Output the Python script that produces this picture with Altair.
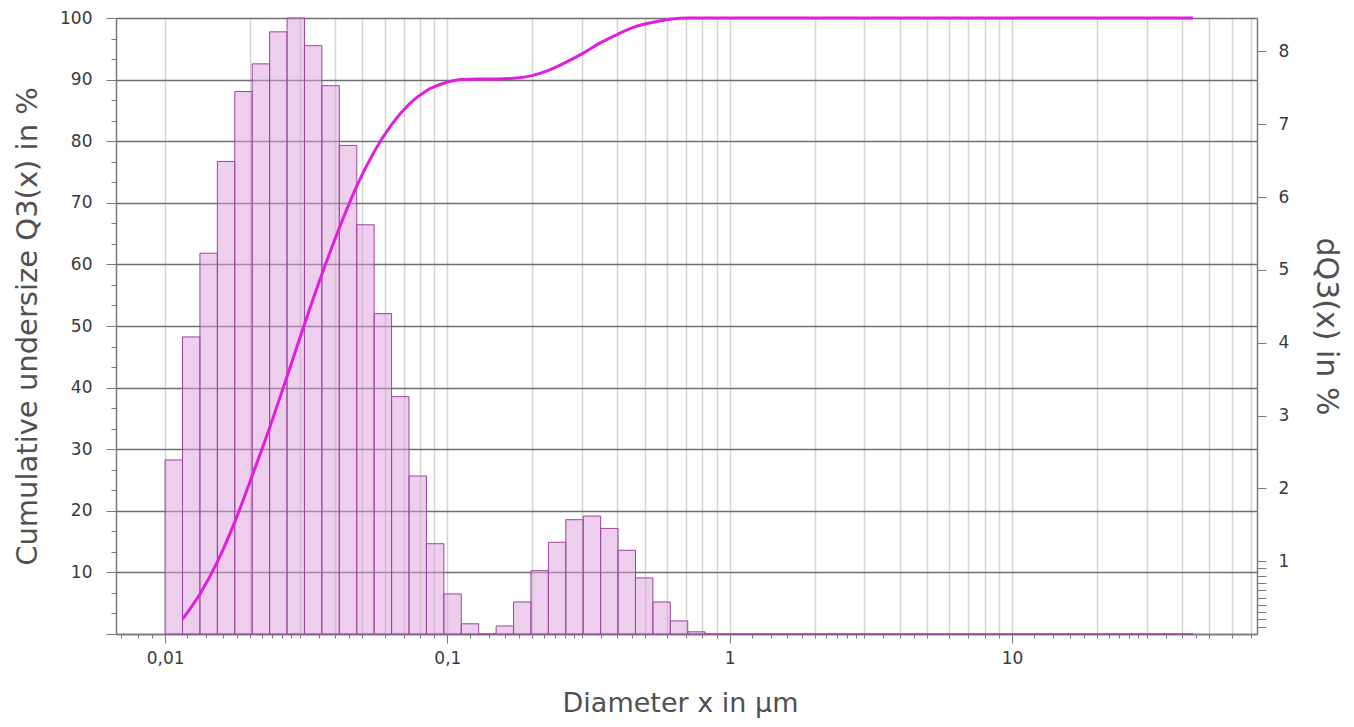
import altair as alt
import pandas as pd

# ---- data ----
FIRST_EDGE = 0.01        # lower edge of the first size class, µm
CLASS_RATIO = 1.1527     # geometric ratio between neighbouring class edges

# density distribution dQ3 per class, % (right axis)
dq3 = [2.39, 4.08, 5.23, 6.49, 7.45, 7.83, 8.27, 8.46, 8.08, 7.53,
       6.71, 5.62, 4.40, 3.26, 2.17, 1.24, 0.55, 0.14, 0.00, 0.11,
       0.44, 0.87, 1.26, 1.57, 1.62, 1.45, 1.15, 0.77, 0.44, 0.18,
       0.03, 0.00, 0.00, 0.00, 0.00, 0.00, 0.00, 0.00, 0.00, 0.00,
       0.00, 0.00, 0.00, 0.00, 0.00, 0.00, 0.00, 0.00, 0.00, 0.00,
       0.00, 0.00, 0.00, 0.00, 0.00, 0.00, 0.00, 0.00, 0.00]

# cumulative undersize Q3 at the upper class edges, % (left axis)
q3 = [2.4, 6.5, 11.7, 18.2, 25.7, 33.5, 41.8, 50.3, 58.4, 65.9,
      72.7, 78.3, 82.7, 86.0, 88.2, 89.4, 90.0, 90.1, 90.1, 90.2,
      90.6, 91.5, 92.8, 94.3, 96.0, 97.4, 98.6, 99.3, 99.8, 100.0,
      100.0, 100.0, 100.0, 100.0, 100.0, 100.0, 100.0, 100.0, 100.0, 100.0,
      100.0, 100.0, 100.0, 100.0, 100.0, 100.0, 100.0, 100.0, 100.0, 100.0,
      100.0, 100.0, 100.0, 100.0, 100.0, 100.0, 100.0, 100.0, 100.0]

x_domain = [0.0067, 73.8]
q3_domain = [0, 100]
dq3_domain = [0, 8.46]

x_title = "Diameter x in µm"
left_title = "Cumulative undersize Q3(x) in %"
right_title = "dQ3(x) in %"

# tick positions
x_mantissas = [1, 1.2, 1.4, 1.6, 1.8, 2, 2.2, 2.4, 2.6, 2.8, 3, 3.5, 4, 4.5, 5, 6, 7, 8, 9]
x_decades = [0.001, 0.01, 0.1, 1, 10]
left_ticks = [round(i * 10 / 3, 4) for i in range(31)]
right_ticks = [0.1, 0.2, 0.3, 0.4, 0.5, 0.6, 0.7, 0.8, 0.9, 1, 2, 3, 4, 5, 6, 7, 8]

# ---- tables ----
n = len(dq3)
edges = [FIRST_EDGE * CLASS_RATIO ** k for k in range(n + 1)]
bars_df = pd.DataFrame({"lo": edges[:-1], "hi": edges[1:], "dq3": dq3})
curve_df = pd.DataFrame({"x": edges[1:], "q3": q3})

x_ticks = sorted({round(d * m, 7) for d in x_decades for m in x_mantissas
                  if x_domain[0] <= d * m <= x_domain[1]})

FONT = "DejaVu Sans"
LBL = "#3a3a3a"
TTL = "#505050"
AX = "#7a7a7a"

lg = "log(datum.value)/LN10"
is_pow10 = f"abs({lg} - round({lg})) < 0.001"
mant = f"(datum.value / pow(10, floor({lg} + 0.000001)))"
is_int_mant = f"abs({mant} - round({mant})) < 0.001"
grid_test = f"({is_int_mant}) && datum.value >= 0.0099"
is_ten = "abs(datum.value/10 - round(datum.value/10)) < 0.001"

x_axis = alt.Axis(
    values=x_ticks,
    labelExpr=f"({is_pow10}) ? replace(format(datum.value, '~g'), '.', ',') : ''",
    labelOverlap=False,
    labelFlush=False,
    labelFont=FONT, labelFontSize=17, labelColor=LBL, labelPadding=7,
    tickSize={"condition": {"test": is_pow10, "value": 9}, "value": 4},
    tickColor=AX, tickWidth=1,
    domainColor=AX, domainWidth=1.5,
    grid=True, gridColor="#d4d4d4", gridWidth=1.5,
    gridOpacity={"condition": {"test": grid_test, "value": 1}, "value": 0},
    title=x_title, titleFont=FONT, titleFontSize=27, titleFontWeight="normal",
    titleColor=TTL, titleX=564, titleY=69, titleBaseline="middle",
)

left_axis = alt.Axis(
    orient="left",
    values=left_ticks,
    labelExpr=f"({is_ten} && datum.value > 0) ? format(datum.value, 'd') : ''",
    labelOverlap=False,
    labelFont=FONT, labelFontSize=17, labelColor=LBL, labelPadding=14,
    tickSize={"condition": {"test": is_ten, "value": 10}, "value": 5},
    tickColor=AX, tickWidth=1,
    domainColor=AX, domainWidth=1.5,
    grid=True, gridColor="#6f6f6f", gridWidth=1.5,
    gridOpacity={"condition": {"test": is_ten, "value": 1}, "value": 0},
    title=left_title, titleFont=FONT, titleFontSize=29, titleFontWeight="normal",
    titleColor=TTL, titleX=-89, titleBaseline="middle",
)

right_axis = alt.Axis(
    orient="right",
    values=right_ticks,
    labelExpr="datum.value >= 1 ? format(datum.value, 'd') : ''",
    labelOverlap=False,
    labelFont=FONT, labelFontSize=17, labelColor=LBL, labelPadding=12,
    tickSize=9, tickColor=AX, tickWidth=1,
    domainColor=AX, domainWidth=1.5,
    grid=False,
    title=right_title, titleFont=FONT, titleFontSize=30, titleFontWeight="normal",
    titleColor=TTL, titleX=68, titleBaseline="middle",
)

x_scale = alt.Scale(type="log", domain=x_domain, nice=False)

bars = alt.Chart(bars_df).mark_rect(
    fill="#dc9ddc", fillOpacity=0.5, stroke="#9c449c", strokeWidth=1
).encode(
    x=alt.X("lo:Q", scale=x_scale, axis=x_axis),
    x2="hi:Q",
    y=alt.Y("dq3:Q", scale=alt.Scale(domain=dq3_domain, nice=False, zero=True), axis=right_axis),
    y2=alt.datum(0),
)

line = alt.Chart(curve_df).mark_line(
    color="#e01ee0", strokeWidth=3, interpolate="monotone"
).encode(
    x=alt.X("x:Q", scale=x_scale, axis=x_axis),
    y=alt.Y("q3:Q", scale=alt.Scale(domain=q3_domain, nice=False), axis=left_axis),
)

chart = alt.layer(bars, line).resolve_scale(y="independent").properties(
    width=1141, height=616,
    autosize=alt.AutoSizeParams(type="none"),
    padding={"left": 108, "top": 10, "right": 89, "bottom": 85},
    background="white",
).configure_view(strokeWidth=0)

chart.save("out.html", embed_options={"renderer": "svg", "actions": False})
